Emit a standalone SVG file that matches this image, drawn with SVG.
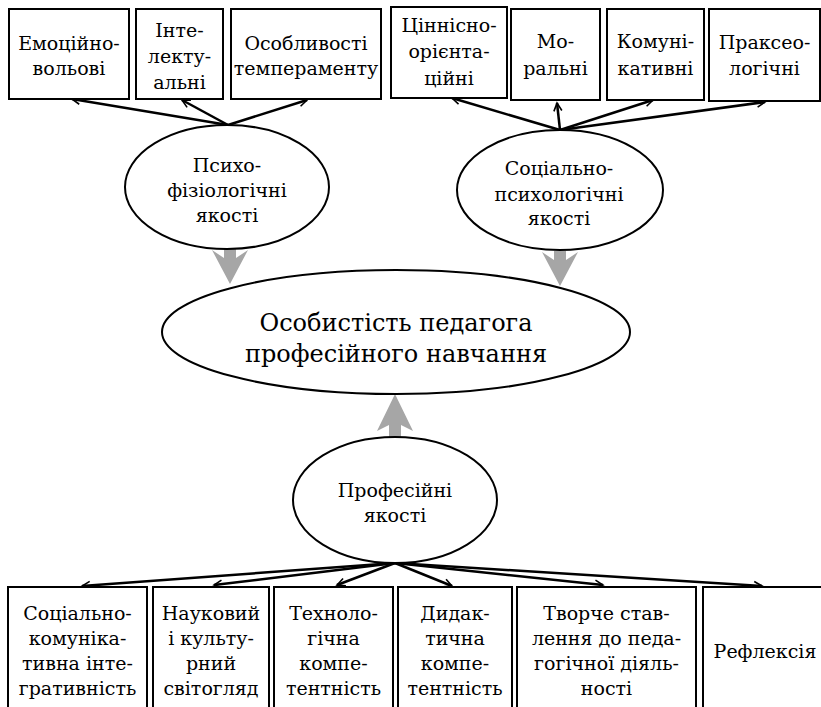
<svg xmlns="http://www.w3.org/2000/svg" width="821" height="707" viewBox="0 0 821 707">
<defs>
<style>
.box{fill:#fff;stroke:#000;stroke-width:2}
.ell{fill:#fff;stroke:#000;stroke-width:2}
.t{font-family:"DejaVu Serif","Liberation Serif",serif;font-size:19px;fill:#000;text-anchor:middle}
.tm{font-family:"DejaVu Serif","Liberation Serif",serif;font-size:24px;fill:#000;text-anchor:middle}
.ln{stroke:#000;stroke-width:2.5;fill:none;marker-end:url(#ah)}
.gr{fill:#a6a6a6;stroke:none}
</style>
<marker id="ah" markerWidth="12" markerHeight="12" refX="9" refY="5" orient="auto" markerUnits="userSpaceOnUse" viewBox="0 0 12 10">
<path d="M1,1 L9,5 L1,9" fill="none" stroke="#000" stroke-width="1.6"/>
</marker>
</defs>
<rect width="821" height="707" fill="#fff"/>

<g id="connectors">
<line class="ln" x1="228" y1="125" x2="72" y2="99"/>
<line class="ln" x1="228" y1="125" x2="182" y2="100"/>
<line class="ln" x1="228" y1="125" x2="307" y2="100"/>
<line class="ln" x1="560" y1="130" x2="452" y2="98"/>
<line class="ln" x1="560" y1="130" x2="557" y2="103"/>
<line class="ln" x1="560" y1="130" x2="653" y2="100"/>
<line class="ln" x1="560" y1="130" x2="765" y2="102"/>
<line class="ln" x1="395" y1="563" x2="82" y2="586"/>
<line class="ln" x1="395" y1="563" x2="214" y2="585"/>
<line class="ln" x1="395" y1="563" x2="337" y2="585"/>
<line class="ln" x1="395" y1="563" x2="452" y2="586"/>
<line class="ln" x1="395" y1="563" x2="603" y2="585"/>
<line class="ln" x1="395" y1="563" x2="762" y2="586"/>
<path class="gr" d="M224,249 L236,249 L236,258 L248,250 L230,284 L212,250 L224,258 Z"/>
<path class="gr" d="M554,251 L566,251 L566,260 L578,252 L560,286 L542,252 L554,260 Z"/>
<path class="gr" d="M395,394 L413,431 L401,425 L401,438 L389,438 L389,425 L377,431 Z"/>
</g>

<g id="top1"><rect class="box" x="9" y="9" width="120" height="90"/>
<text class="t" x="69" y="50">Емоційно-</text><text class="t" x="69" y="75">вольові</text></g>
<g id="top2"><rect class="box" x="136" y="9" width="87" height="90"/>
<text class="t" x="179.5" y="37">Інте-</text><text class="t" x="179.5" y="63">лекту-</text><text class="t" x="179.5" y="89">альні</text></g>
<g id="top3"><rect class="box" x="231" y="9" width="150" height="90"/>
<text class="t" x="306" y="50">Особливості</text><text class="t" x="306" y="75">темпераменту</text></g>
<g id="top4"><rect class="box" x="391" y="7" width="116" height="91"/>
<text class="t" x="449" y="32">Ціннісно-</text><text class="t" x="449" y="58">орієнта-</text><text class="t" x="449" y="85">ційні</text></g>
<g id="top5"><rect class="box" x="511" y="9" width="89" height="91"/>
<text class="t" x="555.5" y="48">Мо-</text><text class="t" x="555.5" y="75">ральні</text></g>
<g id="top6"><rect class="box" x="607" y="9" width="97" height="91"/>
<text class="t" x="655.5" y="48">Комуні-</text><text class="t" x="655.5" y="75">кативні</text></g>
<g id="top7"><rect class="box" x="709" y="9" width="111" height="92"/>
<text class="t" x="764.5" y="49">Праксео-</text><text class="t" x="764.5" y="75">логічні</text></g>

<g id="psycho"><ellipse class="ell" cx="227" cy="187" rx="102" ry="62"/>
<text class="t" x="227" y="172">Психо-</text><text class="t" x="227" y="197">фізіологічні</text><text class="t" x="227" y="222">якості</text></g>
<g id="social"><ellipse class="ell" cx="560" cy="190" rx="103" ry="60"/>
<text class="t" x="559" y="175">Соціально-</text><text class="t" x="559" y="201">психологічні</text><text class="t" x="559" y="225">якості</text></g>
<g id="main"><ellipse class="ell" cx="396" cy="332" rx="234" ry="62"/>
<text class="tm" x="396" y="331">Особистість педагога</text><text class="tm" x="396" y="362">професійного навчання</text></g>
<g id="prof"><ellipse class="ell" cx="395" cy="500" rx="102" ry="63"/>
<text class="t" x="395" y="497">Професійні</text><text class="t" x="395" y="522">якості</text></g>

<g id="b1"><rect class="box" x="8" y="587" width="139" height="140"/>
<text class="t" x="77.5" y="620">Соціально-</text><text class="t" x="77.5" y="645">комуніка-</text><text class="t" x="77.5" y="670">тивна інте-</text><text class="t" x="77.5" y="695">гративність</text></g>
<g id="b2"><rect class="box" x="153" y="587" width="116" height="140"/>
<text class="t" x="211" y="620">Науковий</text><text class="t" x="211" y="645">і культу-</text><text class="t" x="211" y="670">рний</text><text class="t" x="211" y="695">світогляд</text></g>
<g id="b3"><rect class="box" x="274" y="587" width="119" height="140"/>
<text class="t" x="333.5" y="620">Техноло-</text><text class="t" x="333.5" y="645">гічна</text><text class="t" x="333.5" y="670">компе-</text><text class="t" x="333.5" y="695">тентність</text></g>
<g id="b4"><rect class="box" x="398" y="587" width="114" height="140"/>
<text class="t" x="455" y="620">Дидак-</text><text class="t" x="455" y="645">тична</text><text class="t" x="455" y="670">компе-</text><text class="t" x="455" y="695">тентність</text></g>
<g id="b5"><rect class="box" x="517" y="587" width="179" height="140"/>
<text class="t" x="606.5" y="620">Творче став-</text><text class="t" x="606.5" y="645">лення до педа-</text><text class="t" x="606.5" y="670">гогічної діяль-</text><text class="t" x="606.5" y="695">ності</text></g>
<g id="b6"><rect class="box" x="703" y="587" width="140" height="140"/>
<text class="t" x="765" y="658">Рефлексія</text></g>
</svg>
